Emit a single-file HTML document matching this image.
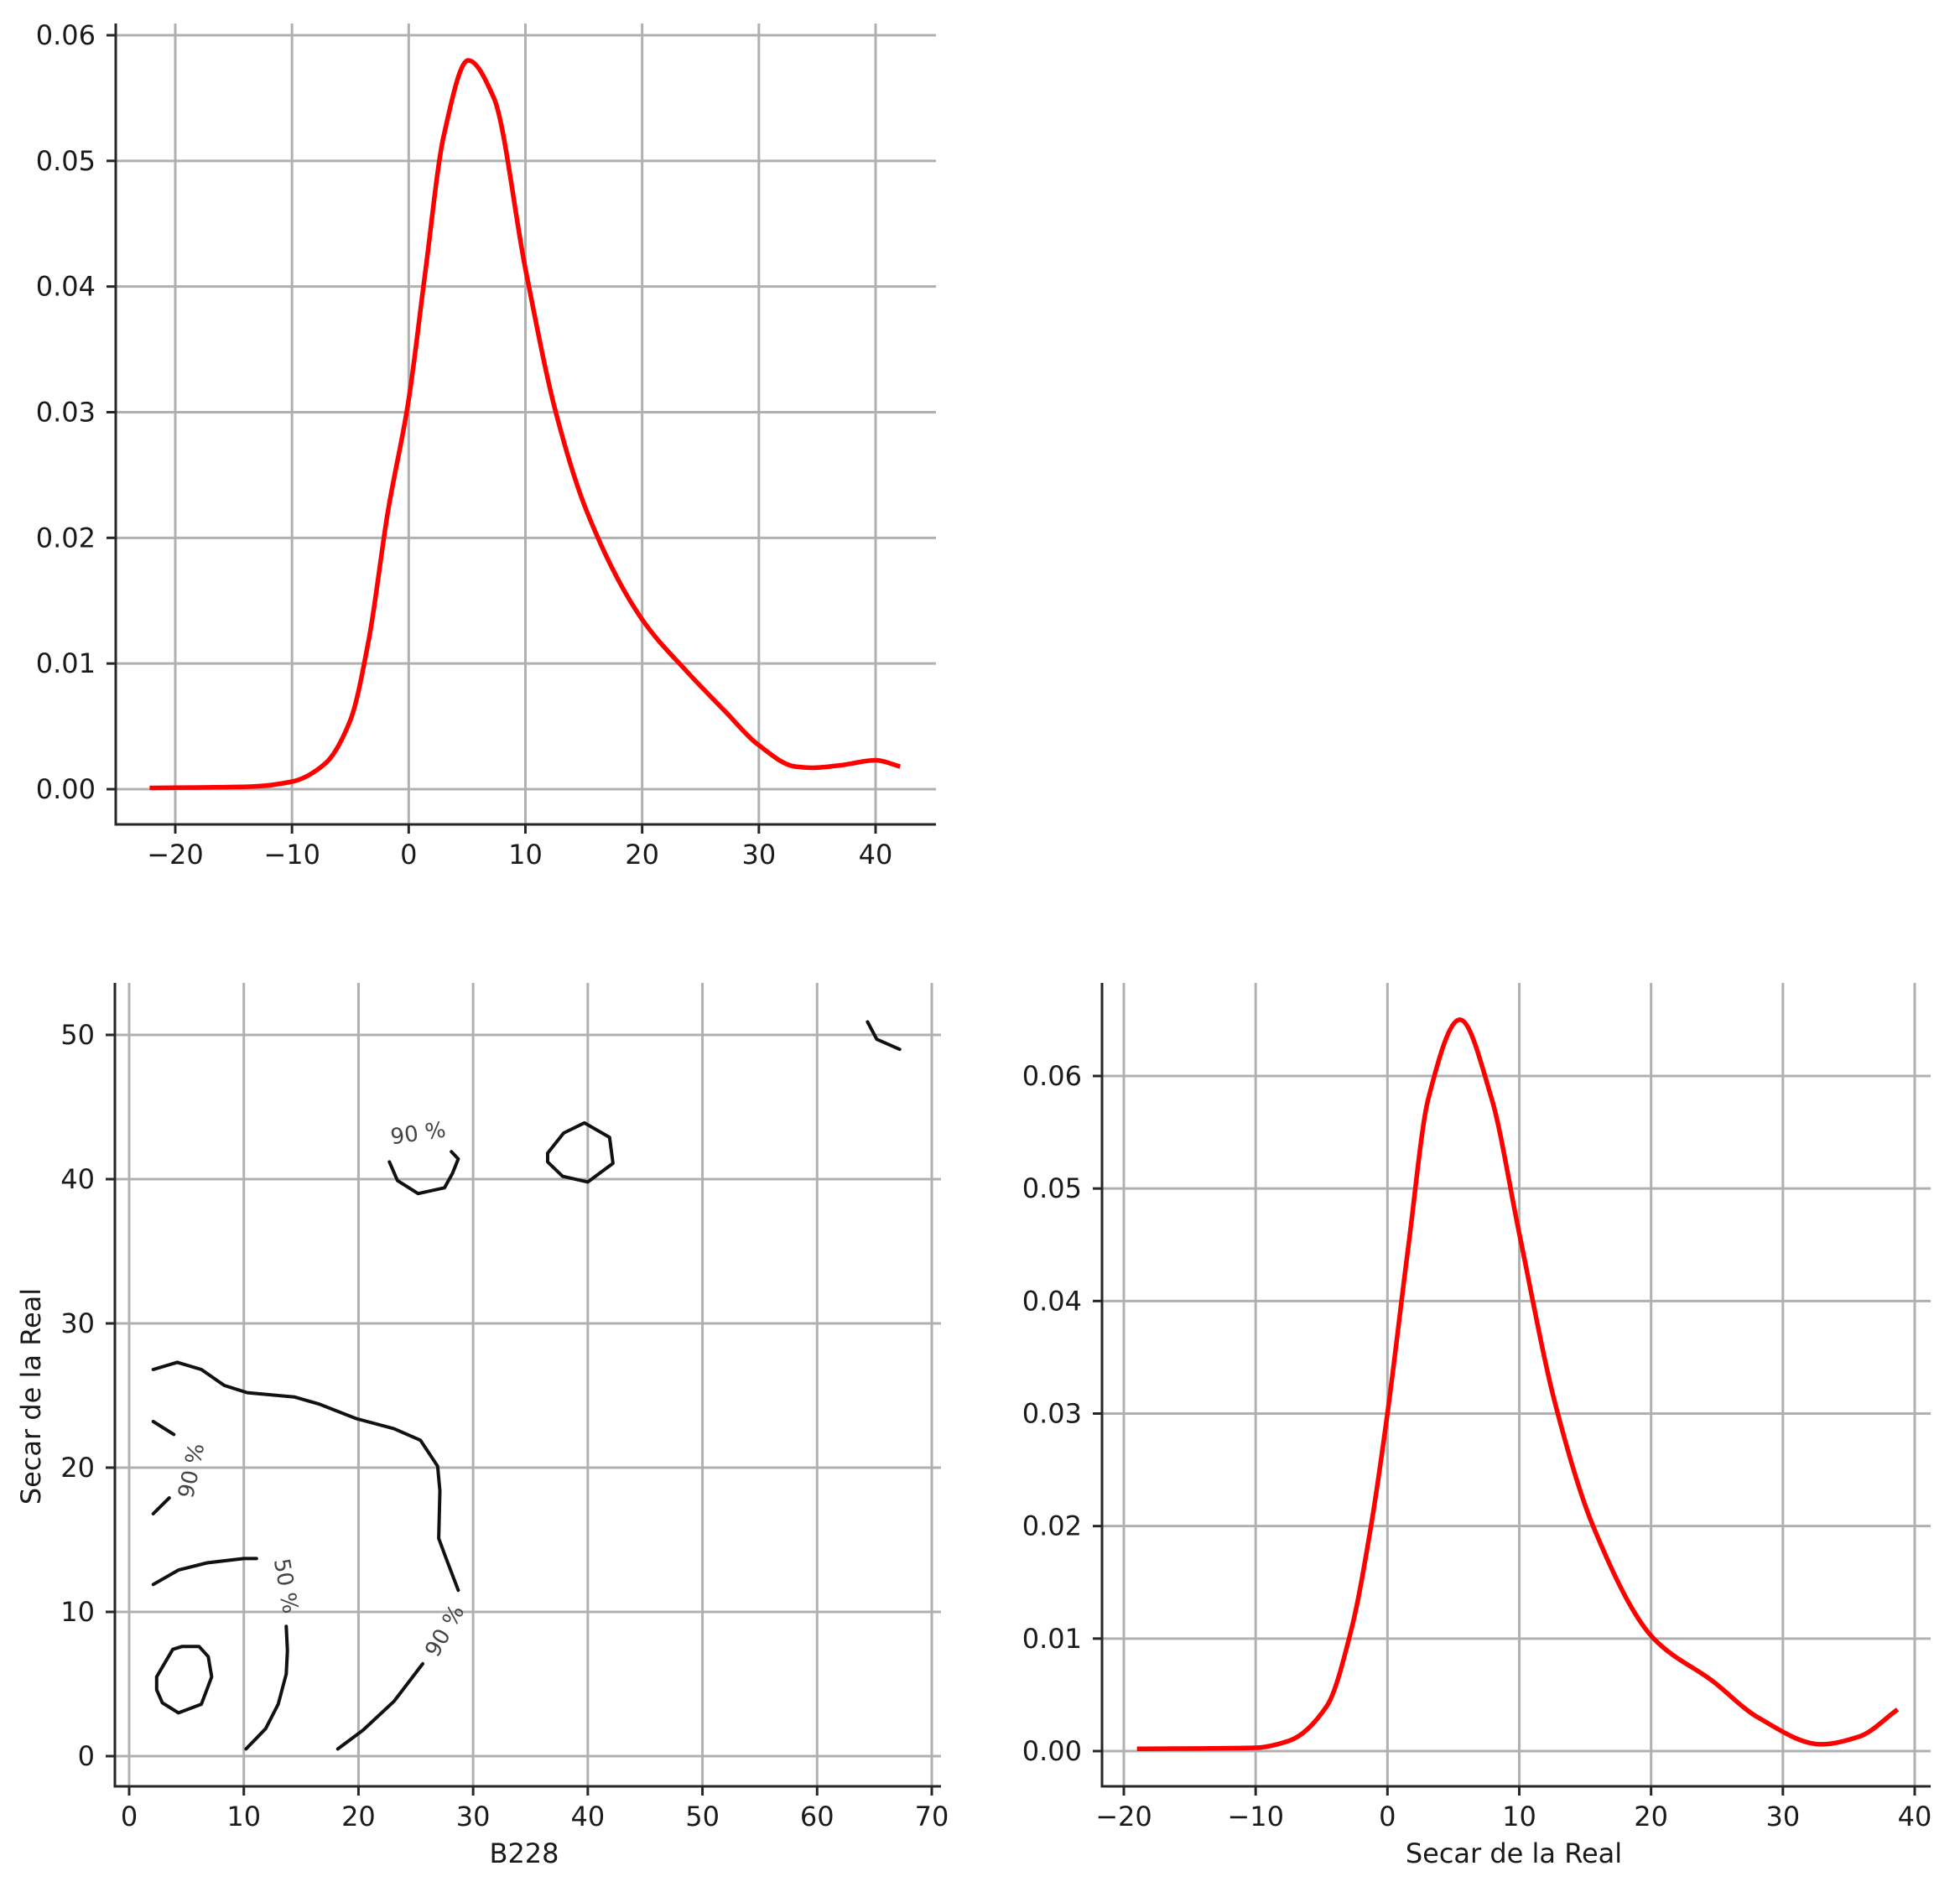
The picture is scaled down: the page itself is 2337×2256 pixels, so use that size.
<!DOCTYPE html>
<html><head><meta charset="utf-8"><style>
html,body{margin:0;padding:0;background:#fff}
svg{display:block}
text{font-family:"DejaVu Sans","Liberation Sans",sans-serif;fill:#1a1a1a}
</style></head><body>
<svg id="fig" width="2337" height="2256" viewBox="0 0 2337 2256" xmlns="http://www.w3.org/2000/svg">
<g id="g-top"></g>
<g id="g-bl"></g>
<g id="g-br"></g>
</svg>
<script>
// ---- data ----
const topKdeX = [-22.2,-13.6,-10,-7.2,-5,-3.4,-1.8,0,1.4,3,5.1,7.3,10,12.6,15.3,20,23.9,27.1,30,33.1,34.6,37,40,42.1];
const topKdeY = [0.0001,0.0002,0.0006,0.002,0.0055,0.012,0.022,0.031,0.041,0.052,0.058,0.055,0.0414,0.030,0.022,0.0135,0.0093,0.0062,0.0035,0.0018,0.0017,0.0019,0.0023,0.0018];
const topXTicks = [-20,-10,0,10,20,30,40];
const topYTicks = [0,0.01,0.02,0.03,0.04,0.05,0.06];

const brKdeX = [-19,-10,-7.5,-4.6,-2.7,-1.25,0,1.6,3.1,5.5,7.9,10,12.7,15.6,20.2,24.7,28.1,32.9,35.8,38.7];
const brKdeY = [0.0002,0.0003,0.0009,0.004,0.011,0.020,0.030,0.045,0.058,0.065,0.058,0.046,0.031,0.020,0.010,0.0062,0.0030,0.0006,0.0013,0.0037];
const brXTicks = [-20,-10,0,10,20,30,40];
const brYTicks = [0,0.01,0.02,0.03,0.04,0.05,0.06];

const blXTicks = [0,10,20,30,40,50,60,70];
const blYTicks = [0,10,20,30,40,50];
const contourBig = [[2.1,26.8],[4.2,27.3],[6.3,26.8],[8.3,25.7],[10.3,25.2],[14.4,24.9],[16.6,24.4],[19.8,23.4],[23.1,22.7],[25.4,21.9],[26.9,20.1],[27.1,18.4],[27.0,15.1],[27.6,13.8],[28.7,11.5]];
const contourDashA = [[2.1,23.2],[3.9,22.3]];
const contourDashB = [[2.1,16.8],[3.5,17.9]];
const contour50Top = [[2.1,11.9],[4.3,12.9],[6.8,13.4],[10.0,13.7],[11.1,13.7]];
const contour50Bot = [[13.7,9.0],[13.8,7.3],[13.7,5.7],[13.0,3.6],[11.9,1.9],[10.2,0.5]];
const contourLoopSmall = [[2.4,5.5],[3.8,7.4],[4.6,7.6],[6.1,7.6],[6.9,6.9],[7.2,5.5],[6.3,3.6],[4.3,3.0],[2.9,3.7],[2.4,4.6],[2.4,5.5]];
const contourBottom = [[18.2,0.5],[20.4,1.8],[23.1,3.8],[25.6,6.4]];
const contourArcTop = [[22.7,41.2],[23.4,39.9],[25.2,39.0],[27.5,39.4],[28.2,40.4],[28.7,41.4],[28.1,41.9]];
const contourOct = [[36.5,41.8],[37.9,43.2],[39.7,43.9],[41.9,42.9],[42.2,41.1],[40.0,39.8],[37.8,40.2],[36.5,41.2],[36.5,41.8]];
const contourCorner = [[64.4,50.9],[65.2,49.7],[67.2,49.0]];
const contourLabels = [["90 %",5.4,19.8,-78],["50 %",13.7,11.8,80],["90 %",27.5,8.7,-60],["90 %",25.2,43.2,-8]];

// ---- helpers ----
const NS="http://www.w3.org/2000/svg";
function mk(tag,attrs,parent){const e=document.createElementNS(NS,tag);for(const k in attrs)e.setAttribute(k,attrs[k]);parent.appendChild(e);return e;}
function lin(d0,d1,p0,p1){return v=>p0+(v-d0)*(p1-p0)/(d1-d0);}
// monotone cubic (Fritsch-Carlson) in pixel space
function monoPath(pts){
  const n=pts.length,dx=[],m=[],t=[];
  for(let i=0;i<n-1;i++){dx[i]=pts[i+1][0]-pts[i][0];m[i]=(pts[i+1][1]-pts[i][1])/dx[i];}
  t[0]=m[0];t[n-1]=m[n-2];
  for(let i=1;i<n-1;i++){
    if(m[i-1]*m[i]<=0)t[i]=0;
    else{const w1=2*dx[i]+dx[i-1],w2=dx[i]+2*dx[i-1];t[i]=(w1+w2)/(w1/m[i-1]+w2/m[i]);}
  }
  let d="M"+pts[0][0].toFixed(1)+","+pts[0][1].toFixed(1);
  for(let i=0;i<n-1;i++){
    const h=dx[i]/3;
    d+=" C"+(pts[i][0]+h).toFixed(1)+","+(pts[i][1]+t[i]*h).toFixed(1)+" "+(pts[i+1][0]-h).toFixed(1)+","+(pts[i+1][1]-t[i+1]*h).toFixed(1)+" "+pts[i+1][0].toFixed(1)+","+pts[i+1][1].toFixed(1);
  }
  return d;
}
function axes(g,box,sx,sy,xt,yt,fmtX,fmtY){
  const grid=mk("g",{},g);
  
  
  xt.forEach(v=>{const x=sx(v);const l=mk("line",{x1:x,x2:x,y1:box.t,y2:box.b,stroke:"#b0b0b0","stroke-width":3},grid);
    
    });
  yt.forEach(v=>{const y=sy(v);const l=mk("line",{x1:box.l,x2:box.r,y1:y,y2:y,stroke:"#b0b0b0","stroke-width":3},grid);
    
    });
  const ax=mk("g",{},g);
  
  
  const ls=mk("line",{x1:box.l,x2:box.l,y1:box.t,y2:box.b+1.5,stroke:"#262626","stroke-width":3},ax);
  
  
  const bs=mk("line",{x1:box.l-1.5,x2:box.r,y1:box.b,y2:box.b,stroke:"#262626","stroke-width":3},ax);
  
  
  xt.forEach(v=>{const x=sx(v);
    mk("line",{x1:x,x2:x,y1:box.b,y2:box.b+11,stroke:"#262626","stroke-width":3},ax);
    const t=mk("text",{x:x,y:box.b+47,"font-size":32,"text-anchor":"middle"},ax);
    
    
    t.textContent=fmtX(v);});
  yt.forEach(v=>{const y=sy(v);
    mk("line",{x1:box.l-11,x2:box.l,y1:y,y2:y,stroke:"#262626","stroke-width":3},ax);
    const t=mk("text",{x:box.l-24,y:y+11,"font-size":32,"text-anchor":"end"},ax);
    
    
    t.textContent=fmtY(v);});
}
const fmtInt=v=>(v<0?"\u2212"+(-v):""+v);
const fmt2=v=>v.toFixed(2);

// ---- top panel ----
{
  const g=document.getElementById("g-top");
  const box={l:138,r:1116,t:28,b:983};
  const sx=lin(-20,40,209,1044), sy=lin(0,0.06,941,42);
  axes(g,box,sx,sy,topXTicks,topYTicks,fmtInt,fmt2);
  const pts=topKdeX.map((x,i)=>[sx(x),sy(topKdeY[i])]);
  const p=mk("path",{d:monoPath(pts),fill:"none",stroke:"#ff0000","stroke-width":5.5,"stroke-linejoin":"round"},g);
  
  
}
// ---- bottom-right panel ----
{
  const g=document.getElementById("g-br");
  const box={l:1314,r:2302,t:1172,b:2130};
  const sx=lin(-20,40,1340,2283), sy=lin(0,0.06,2088,1283);
  axes(g,box,sx,sy,brXTicks,brYTicks,fmtInt,fmt2);
  const pts=brKdeX.map((x,i)=>[sx(x),sy(brKdeY[i])]);
  const p=mk("path",{d:monoPath(pts),fill:"none",stroke:"#ff0000","stroke-width":5.5,"stroke-linejoin":"round"},g);
  
  
  const t=mk("text",{x:1805,y:2221,"font-size":32,"text-anchor":"middle"},g);
  
  
  t.textContent="Secar de la Real";
}
// ---- bottom-left contour panel ----
{
  const g=document.getElementById("g-bl");
  const box={l:137,r:1122,t:1172,b:2130};
  const sx=lin(0,70,154,1111), sy=lin(0,50,2094,1234);
  axes(g,box,sx,sy,blXTicks,blYTicks,fmtInt,v=>""+v);
  const lines=[contourBig,contourDashA,contourDashB,contour50Top,contour50Bot,contourLoopSmall,contourBottom,contourArcTop,contourOct,contourCorner];
  lines.forEach(arr=>{
    const pts=arr.map(p=>[sx(p[0]),sy(p[1])]);
    const d="M"+pts.map(p=>p[0].toFixed(1)+","+p[1].toFixed(1)).join(" L");
    const p=mk("path",{d:d,fill:"none",stroke:"#111","stroke-width":4,"stroke-linejoin":"round","stroke-linecap":"round"},g);
    
    
  });
  contourLabels.forEach(l=>{
    const x=sx(l[1]),y=sy(l[2]);
    const t=mk("text",{x:x,y:y+9,"font-size":26,"text-anchor":"middle",transform:"rotate("+l[3]+" "+x+" "+y+")",style:"fill:#444"},g);
    
    
    t.textContent=l[0];
  });
  const xl=mk("text",{x:625,y:2221,"font-size":32,"text-anchor":"middle"},g);
  
  
  xl.textContent="B228";
  const yl=mk("text",{x:37,y:1665,"font-size":32,"text-anchor":"middle",transform:"rotate(-90 37 1665)"},g);
  
  
  yl.setAttribute('dy','11');
  yl.textContent="Secar de la Real";
}
</script>
</body></html>
